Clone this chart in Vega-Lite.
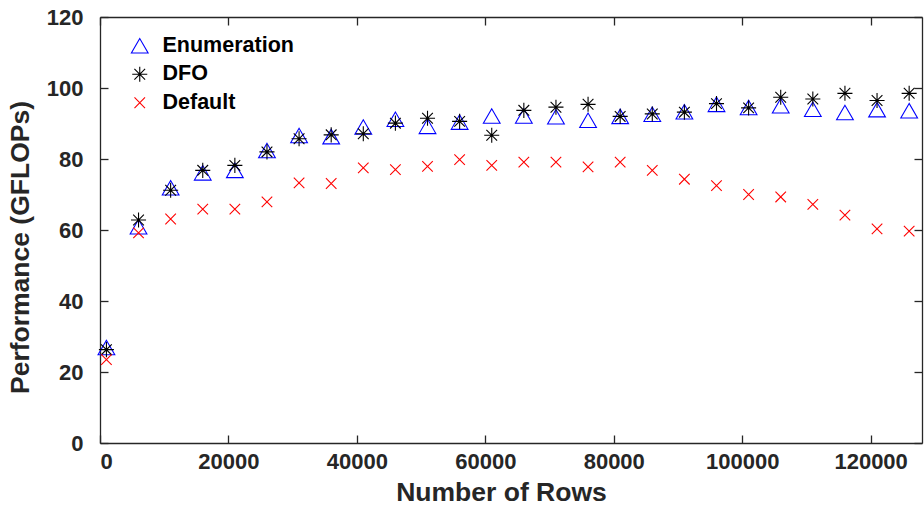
{
  "$schema": "https://vega.github.io/schema/vega-lite/v6.json",
  "width": 822,
  "height": 426,
  "autosize": {"type": "none"},
  "padding": {"left": 100, "top": 17, "right": 2, "bottom": 65},
  "background": "white",
  "config": {
    "view": {"stroke": null},
    "font": "Liberation Sans",
    "axis": {
      "grid": false,
      "domainColor": "#262626",
      "domainWidth": 1.3,
      "tickColor": "#262626",
      "tickWidth": 1.3,
      "tickSize": -8,
      "labelFont": "Liberation Sans",
      "labelFontSize": 22,
      "labelFontWeight": "bold",
      "labelColor": "#262626",
      "titleFont": "Liberation Sans",
      "titleFontSize": 26.5,
      "titleFontWeight": "bold",
      "titleColor": "#262626"
    }
  },
  "data": {
    "values": [
      {"rows": 1000, "series": "Enumeration", "perf": 26.9},
      {"rows": 6000, "series": "Enumeration", "perf": 60.9},
      {"rows": 11000, "series": "Enumeration", "perf": 71.9},
      {"rows": 16000, "series": "Enumeration", "perf": 76.1},
      {"rows": 21000, "series": "Enumeration", "perf": 76.8},
      {"rows": 26000, "series": "Enumeration", "perf": 82.4},
      {"rows": 31000, "series": "Enumeration", "perf": 86.6},
      {"rows": 36000, "series": "Enumeration", "perf": 86.3},
      {"rows": 41000, "series": "Enumeration", "perf": 89.0},
      {"rows": 46000, "series": "Enumeration", "perf": 91.2},
      {"rows": 51000, "series": "Enumeration", "perf": 89.2},
      {"rows": 56000, "series": "Enumeration", "perf": 90.4},
      {"rows": 61000, "series": "Enumeration", "perf": 92.1},
      {"rows": 66000, "series": "Enumeration", "perf": 92.1},
      {"rows": 71000, "series": "Enumeration", "perf": 91.9},
      {"rows": 76000, "series": "Enumeration", "perf": 90.9},
      {"rows": 81000, "series": "Enumeration", "perf": 92.0},
      {"rows": 86000, "series": "Enumeration", "perf": 92.6},
      {"rows": 91000, "series": "Enumeration", "perf": 93.3},
      {"rows": 96000, "series": "Enumeration", "perf": 95.4},
      {"rows": 101000, "series": "Enumeration", "perf": 94.5},
      {"rows": 106000, "series": "Enumeration", "perf": 95.0},
      {"rows": 111000, "series": "Enumeration", "perf": 94.0},
      {"rows": 116000, "series": "Enumeration", "perf": 93.1},
      {"rows": 121000, "series": "Enumeration", "perf": 93.9},
      {"rows": 126000, "series": "Enumeration", "perf": 93.6},
      {"rows": 1000, "series": "DFO", "perf": 26.3},
      {"rows": 6000, "series": "DFO", "perf": 62.8},
      {"rows": 11000, "series": "DFO", "perf": 71.2},
      {"rows": 16000, "series": "DFO", "perf": 76.8},
      {"rows": 21000, "series": "DFO", "perf": 78.2},
      {"rows": 26000, "series": "DFO", "perf": 82.0},
      {"rows": 31000, "series": "DFO", "perf": 85.7},
      {"rows": 36000, "series": "DFO", "perf": 86.8},
      {"rows": 41000, "series": "DFO", "perf": 87.1},
      {"rows": 46000, "series": "DFO", "perf": 90.1},
      {"rows": 51000, "series": "DFO", "perf": 91.5},
      {"rows": 56000, "series": "DFO", "perf": 90.6},
      {"rows": 61000, "series": "DFO", "perf": 86.7},
      {"rows": 66000, "series": "DFO", "perf": 93.7},
      {"rows": 71000, "series": "DFO", "perf": 94.6},
      {"rows": 76000, "series": "DFO", "perf": 95.4},
      {"rows": 81000, "series": "DFO", "perf": 92.0},
      {"rows": 86000, "series": "DFO", "perf": 92.7},
      {"rows": 91000, "series": "DFO", "perf": 93.2},
      {"rows": 96000, "series": "DFO", "perf": 95.6},
      {"rows": 101000, "series": "DFO", "perf": 94.4},
      {"rows": 106000, "series": "DFO", "perf": 97.4},
      {"rows": 111000, "series": "DFO", "perf": 96.9},
      {"rows": 116000, "series": "DFO", "perf": 98.5},
      {"rows": 121000, "series": "DFO", "perf": 96.5},
      {"rows": 126000, "series": "DFO", "perf": 98.5},
      {"rows": 1000, "series": "Default", "perf": 23.5},
      {"rows": 6000, "series": "Default", "perf": 59.2},
      {"rows": 11000, "series": "Default", "perf": 63.1},
      {"rows": 16000, "series": "Default", "perf": 65.9},
      {"rows": 21000, "series": "Default", "perf": 65.9},
      {"rows": 26000, "series": "Default", "perf": 67.9},
      {"rows": 31000, "series": "Default", "perf": 73.3},
      {"rows": 36000, "series": "Default", "perf": 73.1},
      {"rows": 41000, "series": "Default", "perf": 77.5},
      {"rows": 46000, "series": "Default", "perf": 77.0},
      {"rows": 51000, "series": "Default", "perf": 77.9},
      {"rows": 56000, "series": "Default", "perf": 79.8},
      {"rows": 61000, "series": "Default", "perf": 78.2},
      {"rows": 66000, "series": "Default", "perf": 79.1},
      {"rows": 71000, "series": "Default", "perf": 79.1},
      {"rows": 76000, "series": "Default", "perf": 77.8},
      {"rows": 81000, "series": "Default", "perf": 79.1},
      {"rows": 86000, "series": "Default", "perf": 76.8},
      {"rows": 91000, "series": "Default", "perf": 74.3},
      {"rows": 96000, "series": "Default", "perf": 72.5},
      {"rows": 101000, "series": "Default", "perf": 70.0},
      {"rows": 106000, "series": "Default", "perf": 69.3},
      {"rows": 111000, "series": "Default", "perf": 67.2},
      {"rows": 116000, "series": "Default", "perf": 64.2},
      {"rows": 121000, "series": "Default", "perf": 60.3},
      {"rows": 126000, "series": "Default", "perf": 59.7}
    ]
  },
  "layer": [
    {
      "mark": {"type": "point", "filled": false, "size": 280, "strokeWidth": 1.1, "opacity": 1},
      "encoding": {
        "x": {
          "field": "rows",
          "type": "quantitative",
          "scale": {"domain": [0, 128000], "nice": false, "zero": false},
          "axis": {
            "orient": "bottom",
            "values": [0, 20000, 40000, 60000, 80000, 100000, 120000],
            "format": "d",
            "title": "Number of Rows",
            "labelPadding": 16,
            "titlePadding": 7,
            "titleX": 401
          }
        },
        "y": {
          "field": "perf",
          "type": "quantitative",
          "scale": {"domain": [0, 120], "nice": false},
          "axis": {
            "orient": "left",
            "values": [0, 20, 40, 60, 80, 100, 120],
            "title": "Performance (GFLOPs)",
            "labelPadding": 25,
            "titlePadding": 12,
            "titleY": 230
          }
        },
        "color": {
          "field": "series",
          "type": "nominal",
          "scale": {"domain": ["Enumeration", "DFO", "Default"], "range": ["#0000FF", "#000000", "#FF0000"]},
          "legend": {
            "orient": "none",
            "legendX": 29,
            "legendY": 18,
            "title": null,
            "padding": 0,
            "labelFont": "Liberation Sans",
            "labelFontSize": 21.5,
            "labelFontWeight": "bold",
            "labelColor": "#000000",
            "labelOffset": 12,
            "symbolSize": 280,
            "symbolStrokeWidth": 1.1,
            "rowPadding": 5.5
          }
        },
        "shape": {
          "field": "series",
          "type": "nominal",
          "scale": {
            "domain": ["Enumeration", "DFO", "Default"],
            "range": [
              "triangle-up",
              "M0,-0.9L0,0.9M-0.9,0L0.9,0M-0.64,-0.64L0.64,0.64M-0.64,0.64L0.64,-0.64",
              "M-0.63,-0.63L0.63,0.63M-0.63,0.63L0.63,-0.63"
            ]
          }
        }
      }
    },
    {
      "mark": {"type": "point", "opacity": 0},
      "encoding": {
        "x": {
          "field": "rows",
          "type": "quantitative",
          "axis": {"orient": "top", "values": [0, 20000, 40000, 60000, 80000, 100000, 120000], "labels": false, "title": null}
        },
        "y": {
          "field": "perf",
          "type": "quantitative",
          "axis": {"orient": "right", "values": [0, 20, 40, 60, 80, 100, 120], "labels": false, "title": null}
        }
      }
    }
  ],
  "resolve": {"axis": {"x": "independent", "y": "independent"}}
}
